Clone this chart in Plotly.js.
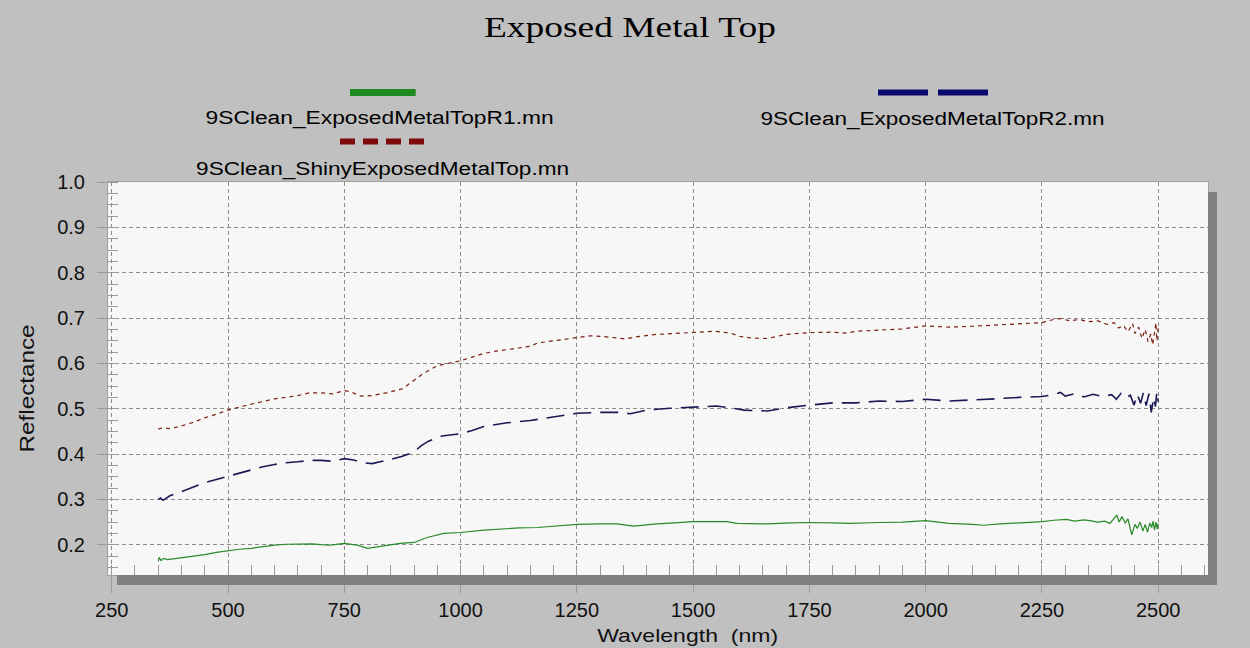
<!DOCTYPE html>
<html>
<head>
<meta charset="utf-8">
<script src="https://cdn.plot.ly/plotly-3.0.1.min.js"></script>
<style>
html,body{margin:0;padding:0;background:#c0c0c0;}
#chart{width:1250px;height:648px;}
</style>
</head>
<body>
<div id="chart"></div>
<script>
// ---------------- data ----------------
var chartTitle = "Exposed Metal Top";
var xTitle = "Wavelength\u00a0 (nm)";
var yTitle = "Reflectance";
var seriesNames = ["9SClean_ExposedMetalTopR1.mn", "9SClean_ExposedMetalTopR2.mn", "9SClean_ShinyExposedMetalTop.mn"];

var r1X = [350,352,356,362,370,385,400,425,450,475,500,525,550,575,600,625,650,680,700,720,750,778,800,835,870,900,928,964,1000,1050,1086,1125,1165,1200,1250,1300,1336,1372,1422,1460,1500,1540,1573,1594,1625,1659,1709,1750,1800,1838,1900,1950,2000,2050,2100,2125,2160,2196,2230,2251,2275,2303,2320,2340,2353,2370,2385,2396,2405,2411,2416,2422,2429,2435,2443,2450,2455,2461,2467,2472,2477,2482,2486,2489,2492,2495,2498,2500];
var r1Y = [0.163,0.172,0.165,0.170,0.167,0.169,0.170,0.174,0.178,0.183,0.187,0.190,0.192,0.196,0.199,0.201,0.202,0.202,0.200,0.199,0.203,0.199,0.192,0.198,0.203,0.205,0.216,0.225,0.227,0.232,0.235,0.237,0.238,0.241,0.245,0.246,0.246,0.241,0.246,0.248,0.251,0.251,0.251,0.247,0.246,0.246,0.248,0.249,0.248,0.247,0.249,0.250,0.253,0.247,0.245,0.243,0.246,0.248,0.250,0.251,0.254,0.256,0.252,0.255,0.253,0.250,0.252,0.247,0.258,0.265,0.250,0.262,0.248,0.257,0.222,0.245,0.236,0.250,0.230,0.245,0.228,0.248,0.238,0.252,0.232,0.250,0.235,0.247];

var r2X = [350,355,360,375,400,425,450,475,500,525,550,575,600,625,650,675,700,725,750,770,790,810,840,875,900,915,930,960,1000,1025,1050,1075,1100,1150,1200,1250,1300,1340,1365,1400,1450,1500,1550,1580,1610,1660,1700,1750,1800,1850,1900,1950,2000,2050,2100,2150,2200,2250,2275,2290,2300,2320,2340,2360,2380,2400,2410,2420,2430,2440,2448,2455,2462,2468,2474,2480,2485,2490,2494,2497,2500];
var r2Y = [0.300,0.303,0.298,0.308,0.317,0.327,0.337,0.344,0.351,0.359,0.366,0.372,0.377,0.381,0.383,0.386,0.386,0.384,0.390,0.387,0.381,0.379,0.386,0.395,0.405,0.418,0.428,0.440,0.445,0.452,0.461,0.465,0.469,0.474,0.482,0.490,0.492,0.492,0.489,0.497,0.501,0.504,0.506,0.502,0.497,0.495,0.502,0.508,0.513,0.513,0.517,0.516,0.521,0.517,0.519,0.522,0.525,0.527,0.531,0.536,0.528,0.533,0.526,0.532,0.527,0.531,0.521,0.534,0.524,0.530,0.508,0.532,0.512,0.535,0.507,0.533,0.492,0.525,0.505,0.538,0.515];

var shinyX = [350,360,375,400,425,450,475,500,525,550,575,600,625,650,675,700,725,750,765,785,810,840,875,895,920,950,975,1000,1025,1050,1075,1100,1125,1150,1165,1200,1250,1280,1310,1355,1380,1420,1460,1500,1545,1580,1600,1625,1660,1700,1750,1800,1830,1850,1900,1950,2000,2050,2100,2150,2200,2250,2275,2290,2310,2330,2350,2370,2390,2405,2415,2425,2435,2445,2450,2458,2465,2472,2478,2484,2488,2492,2495,2497,2500];
var shinyY = [0.455,0.458,0.456,0.462,0.470,0.480,0.488,0.497,0.504,0.510,0.517,0.522,0.525,0.529,0.535,0.535,0.533,0.540,0.537,0.528,0.529,0.535,0.544,0.560,0.578,0.595,0.601,0.606,0.614,0.622,0.627,0.630,0.634,0.638,0.645,0.650,0.656,0.661,0.659,0.654,0.659,0.664,0.666,0.668,0.671,0.667,0.660,0.656,0.655,0.664,0.668,0.669,0.667,0.671,0.673,0.676,0.683,0.680,0.682,0.685,0.687,0.690,0.697,0.699,0.694,0.697,0.692,0.694,0.686,0.690,0.678,0.684,0.670,0.688,0.666,0.680,0.655,0.675,0.648,0.665,0.641,0.672,0.690,0.650,0.678];

var xTicks = [250,500,750,1000,1250,1500,1750,2000,2250,2500];
var yTicks = [0.2,0.3,0.4,0.5,0.6,0.7,0.8,0.9,1.0];

// ---------------- styles / geometry ----------------
var ML = 108, MT = 181.5, PW = 1100, PH = 393.5;
function px(x){ return (x - ML) / PW; }
function py(y){ return (MT + PH - y) / PH; }

var cGreen = "#1f8a1f", cNavy = "#0a0a6e", cRed = "#7e0a0a";
var sans = "Liberation Sans, Arial, sans-serif";

var data = [
  {x: r1X, y: r1Y, name: seriesNames[0], type: "scatter", mode: "lines",
   line: {color: "#2a8a2a", width: 1.2}},
  {x: r2X, y: r2Y, name: seriesNames[1], type: "scatter", mode: "lines",
   line: {color: "#1a1a55", width: 1.6, dash: "18px,9px"}},
  {x: shinyX, y: shinyY, name: seriesNames[2], type: "scatter", mode: "lines",
   line: {color: "#7a1e14", width: 1.2, dash: "4px,4px"}}
];

var axisCommon = {
  showgrid: true, gridcolor: "#8a8a8a", griddash: "4px,3px", gridwidth: 1,
  zeroline: false, showline: true, mirror: true, linecolor: "#a0a0a0", linewidth: 1,
  ticks: "outside", tickcolor: "#9a9a9a", tickwidth: 1,
  tickfont: {family: sans, size: 20, color: "#111"}
};

var layout = {
  width: 1250, height: 648,
  paper_bgcolor: "#c0c0c0", plot_bgcolor: "#f7f7f7",
  margin: {l: ML, r: 1250 - ML - PW, t: MT, b: 648 - MT - PH, pad: 0},
  showlegend: false,
  title: {text: chartTitle, font: {family: "Liberation Serif, Times New Roman, serif", size: 29, color: "#000"},
          x: px(630), xref: "paper", xanchor: "center", y: 1 - 27/648, yref: "container", yanchor: "middle"},
  xaxis: Object.assign({}, axisCommon, {
    range: [242, 2607], tickmode: "array", tickvals: xTicks, ticktext: xTicks.map(String),
    ticklen: 17, ticklabelstandoff: 0,
    minor: {ticks: "inside", dtick: 50, tick0: 0, ticklen: 10, tickcolor: "#9a9a9a", tickwidth: 1, showgrid: false}
  }),
  yaxis: Object.assign({}, axisCommon, {
    range: [0.1332, 1.0003], tickmode: "array", tickvals: yTicks, ticktext: yTicks.map(function(v){return v.toFixed(1);}),
    ticklen: 10, ticklabelstandoff: 8,
    minor: {ticks: "inside", dtick: 0.025, tick0: 0, ticklen: 10, tickcolor: "#9a9a9a", tickwidth: 1, showgrid: false}
  }),
  shapes: [
    // drop shadow of the plot frame
    {type: "rect", xref: "paper", yref: "paper", x0: px(117), x1: px(1217), y0: py(575), y1: py(585),
     fillcolor: "#808080", line: {width: 0}, layer: "above"},
    {type: "rect", xref: "paper", yref: "paper", x0: px(1208), x1: px(1217), y0: py(191.5), y1: py(585),
     fillcolor: "#808080", line: {width: 0}, layer: "above"},
    // legend symbols
    {type: "line", xref: "paper", yref: "paper", x0: px(350), x1: px(415.7), y0: py(92), y1: py(92),
     line: {color: cGreen, width: 7}},
    {type: "line", xref: "paper", yref: "paper", x0: px(878), x1: px(988.5), y0: py(92), y1: py(92),
     line: {color: cNavy, width: 6, dash: "50px,10px"}},
    {type: "line", xref: "paper", yref: "paper", x0: px(340), x1: px(424.5), y0: py(141), y1: py(141),
     line: {color: cRed, width: 6, dash: "15px,8px"}}
  ],
  annotations: [
    {text: seriesNames[0], xref: "paper", yref: "paper", x: px(379), y: py(118), xanchor: "center", yanchor: "middle",
     showarrow: false, font: {family: sans, size: 18, color: "#000"}},
    {text: seriesNames[1], xref: "paper", yref: "paper", x: px(932), y: py(119), xanchor: "center", yanchor: "middle",
     showarrow: false, font: {family: sans, size: 18, color: "#000"}},
    {text: seriesNames[2], xref: "paper", yref: "paper", x: px(382), y: py(169), xanchor: "center", yanchor: "middle",
     showarrow: false, font: {family: sans, size: 18, color: "#000"}},
    {text: yTitle, xref: "paper", yref: "paper", x: px(27), y: py(388), xanchor: "center", yanchor: "middle",
     textangle: -90, showarrow: false, font: {family: sans, size: 20, color: "#111"}},
    {text: xTitle, xref: "paper", yref: "paper", x: px(687), y: py(636), xanchor: "center", yanchor: "middle",
     showarrow: false, font: {family: sans, size: 19, color: "#111"}}
  ]
};

var gd = document.getElementById("chart");
Plotly.newPlot(gd, data, layout, {staticPlot: true, displayModeBar: false}).then(function(){
  function stretch(el, len){
    if(!el) return;
    el.setAttribute("textLength", len);
    el.setAttribute("lengthAdjust", "spacingAndGlyphs");
  }
  stretch(gd.querySelector(".gtitle"), 292);
  var ann = gd.querySelectorAll(".annotation-text");
  var lens = [348, 344, 373, 128, 181];
  for (var i = 0; i < ann.length && i < lens.length; i++) stretch(ann[i], lens[i]);
});
</script>
</body>
</html>
